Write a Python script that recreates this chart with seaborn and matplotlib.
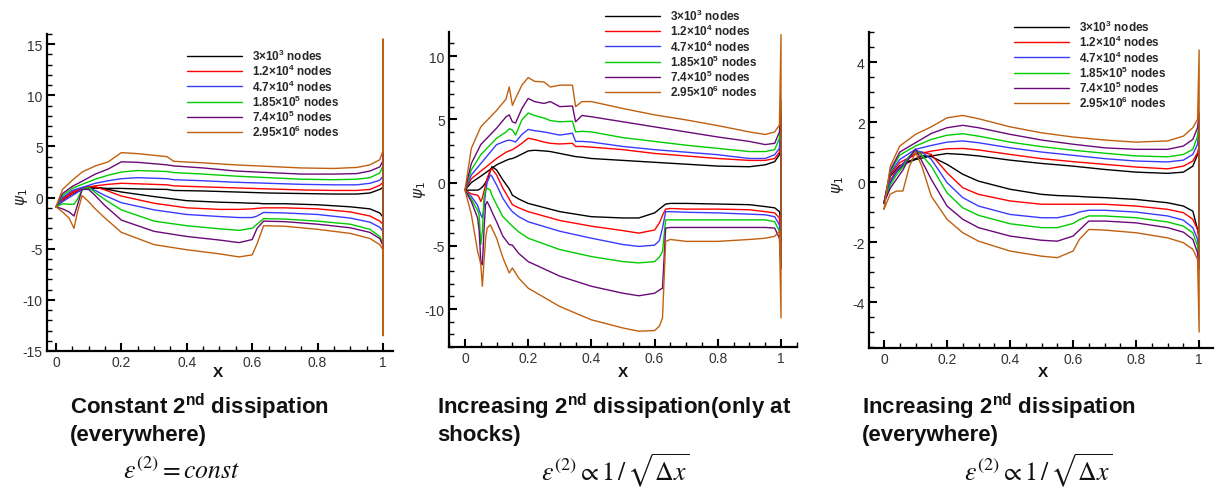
import numpy as np
import pandas as pd
import seaborn as sns
import matplotlib
matplotlib.use("Agg")
import matplotlib.pyplot as plt
from matplotlib.ticker import MultipleLocator
from matplotlib.lines import Line2D

# ---------------- data ----------------
SERIES = ["3×10$^{\\mathbf{3}}$ nodes", "1.2×10$^{\\mathbf{4}}$ nodes", "4.7×10$^{\\mathbf{4}}$ nodes",
          "1.85×10$^{\\mathbf{5}}$ nodes", "7.4×10$^{\\mathbf{5}}$ nodes", "2.95×10$^{\\mathbf{6}}$ nodes"]
COLORS = ["#000000", "#ff0000", "#3a3aff", "#00cc00", "#6a0a78", "#c0600f"]

# Panel 1: constant 2nd dissipation
P1_X_UP = [0, 0.02, 0.05, 0.08, 0.12, 0.16, 0.2, 0.25, 0.34, 0.36, 0.45, 0.55, 0.65, 0.75, 0.85, 0.92, 0.96, 0.99, 1.0]
P1_UP = [
    [-0.9, -0.2, 0.4, 0.8, 0.95, 0.9, 0.9, 0.85, 0.8, 0.7, 0.65, 0.55, 0.45, 0.4, 0.35, 0.35, 0.45, 0.8, 1.0],
    [-0.9, -0.1, 0.6, 0.9, 1.15, 1.3, 1.4, 1.35, 1.25, 1.15, 1.05, 0.95, 0.85, 0.75, 0.7, 0.7, 0.8, 1.2, 1.5],
    [-0.9, 0.0, 0.7, 1.0, 1.4, 1.65, 1.85, 1.95, 1.85, 1.75, 1.65, 1.5, 1.4, 1.3, 1.25, 1.25, 1.4, 1.7, 2.1],
    [-0.9, 0.2, 0.9, 1.3, 1.8, 2.2, 2.5, 2.65, 2.55, 2.45, 2.3, 2.1, 1.95, 1.8, 1.75, 1.8, 1.95, 2.4, 3.1],
    [-0.9, 0.4, 1.1, 1.6, 2.3, 2.8, 3.5, 3.45, 3.2, 3.1, 2.9, 2.6, 2.45, 2.3, 2.3, 2.35, 2.6, 3.0, 3.6],
    [-0.9, 0.8, 1.7, 2.5, 3.1, 3.5, 4.4, 4.3, 4.0, 3.55, 3.4, 3.2, 3.05, 2.9, 2.85, 2.95, 3.2, 3.7, 4.6],
]
P1_X_LO = [0, 0.02, 0.04, 0.055, 0.065, 0.08, 0.1, 0.12, 0.15, 0.2, 0.3, 0.4, 0.5, 0.56, 0.6, 0.615, 0.635, 0.7, 0.8, 0.9, 0.96, 0.99, 1.0]
P1_LO = [
    [-0.9, -0.3, 0.2, 0.5, 0.6, 0.8, 0.95, 1.0, 0.85, 0.55, 0.1, -0.3, -0.45, -0.5, -0.55, -0.55, -0.6, -0.6, -0.7, -0.9, -1.1, -1.5, -1.9],
    [-0.9, -0.3, 0.2, 0.5, 0.65, 0.9, 1.1, 1.05, 0.75, 0.15, -0.55, -1.0, -1.15, -1.15, -1.1, -1.05, -1.0, -1.0, -1.1, -1.4, -1.8, -2.3, -2.6],
    [-0.9, -0.4, 0.0, 0.3, 0.5, 0.85, 0.95, 0.7, 0.2, -0.5, -1.2, -1.65, -1.85, -1.95, -1.95, -1.8, -1.45, -1.5, -1.65, -2.0, -2.4, -2.9, -3.3],
    [-0.9, -0.6, -0.65, -0.65, -0.2, 0.8, 1.0, 0.5, -0.2, -1.2, -2.3, -2.75, -3.05, -3.2, -3.0, -2.6, -2.05, -2.1, -2.3, -2.6, -3.1, -3.8, -4.5],
    [-0.9, -1.1, -1.4, -1.8, -0.8, 0.8, 0.8, 0.2, -0.8, -2.2, -3.3, -3.8, -4.15, -4.4, -4.1, -3.0, -2.3, -2.35, -2.6, -2.95, -3.4, -4.0, -4.7],
    [-0.9, -1.4, -2.0, -3.0, -1.5, 0.2, -0.4, -1.1, -2.0, -3.4, -4.6, -5.1, -5.5, -5.8, -5.6, -4.5, -2.75, -2.8, -3.1, -3.5, -4.0, -4.6, -5.1],
]
P1_TE_TOP = [1.0, 1.8, 2.8, 4.8, 4.5, 15.5]
P1_TE_BOT = [-1.8, -3.0, -3.5, -5.5, -5.2, -13.5]

# Panel 2: increasing 2nd dissipation only at shocks
P2_X_UP = [0, 0.02, 0.05, 0.1, 0.13, 0.14, 0.15, 0.16, 0.18, 0.2, 0.22, 0.25, 0.27, 0.3, 0.34, 0.35, 0.37, 0.4, 0.5, 0.6, 0.7, 0.8, 0.9, 0.95, 0.98, 0.995]
P2_UP = [
    [-0.6, 0.0, 0.5, 1.4, 1.75, 1.85, 1.9, 2.0, 2.25, 2.5, 2.55, 2.5, 2.45, 2.3, 2.1, 2.05, 2.0, 1.9, 1.75, 1.6, 1.45, 1.3, 1.25, 1.4, 1.65, 2.2],
    [-0.6, 0.3, 0.9, 1.9, 2.4, 2.5, 2.6, 2.75, 3.1, 3.5, 3.4, 3.2, 3.1, 3.05, 3.1, 2.85, 2.85, 2.8, 2.6, 2.3, 2.1, 1.9, 1.75, 1.75, 1.9, 2.4],
    [-0.6, 0.6, 1.5, 3.0, 3.3, 3.35, 3.3, 3.2, 3.8, 4.2, 4.1, 4.0, 3.9, 3.75, 3.9, 3.25, 3.25, 3.2, 2.85, 2.6, 2.4, 2.2, 1.9, 1.9, 2.2, 2.7],
    [-0.6, 1.0, 2.2, 3.5, 4.0, 4.25, 4.15, 3.75, 4.95, 5.5, 5.3, 5.1, 4.9, 4.8, 4.85, 4.0, 4.05, 4.0, 3.55, 3.25, 2.95, 2.7, 2.45, 2.45, 2.6, 3.5],
    [-0.6, 1.5, 3.0, 4.3, 5.2, 5.35, 4.8, 4.7, 5.85, 6.65, 6.4, 6.25, 6.4, 6.0, 6.05, 4.8, 5.3, 5.2, 4.8, 4.4, 4.0, 3.6, 3.25, 3.0, 3.1, 4.0],
    [-0.6, 2.7, 4.4, 5.7, 6.6, 7.55, 6.1, 6.65, 7.7, 8.3, 8.0, 7.95, 7.55, 7.7, 7.7, 6.0, 6.4, 6.4, 5.85, 5.35, 4.95, 4.5, 4.0, 3.8, 4.0, 4.55],
]
P2_X_LO = [0, 0.02, 0.04, 0.045, 0.05, 0.055, 0.06, 0.065, 0.07, 0.08, 0.085, 0.1, 0.12, 0.14, 0.15, 0.17, 0.2, 0.3, 0.4, 0.5, 0.55, 0.6, 0.615, 0.625, 0.635, 0.65, 0.7, 0.8, 0.9, 0.95, 0.98, 0.995]
P2_LO = [
    [-0.6, -0.6, -0.6, -0.55, -0.45, -0.35, -0.2, 0.0, 0.2, 0.9, 1.25, 1.0, 0.2, -0.5, -1.0, -1.3, -1.65, -2.3, -2.7, -2.8, -2.8, -2.4, -2.1, -1.9, -1.7, -1.65, -1.65, -1.7, -1.75, -1.9, -2.0, -2.3],
    [-0.6, -0.9, -1.0, -1.2, -1.5, -1.2, -0.7, -0.2, 0.3, 1.0, 1.1, 0.6, -0.45, -1.3, -1.75, -2.0, -2.3, -3.0, -3.45, -3.8, -4.0, -3.75, -3.2, -2.6, -2.1, -2.05, -2.1, -2.1, -2.15, -2.3, -2.4, -2.8],
    [-0.6, -1.1, -1.8, -2.2, -2.55, -2.8, -2.0, -0.8, 0.0, 0.6, 0.5, -0.2, -1.25, -2.0, -2.3, -2.7, -3.1, -3.85, -4.4, -4.9, -5.05, -4.95, -4.6, -3.6, -2.3, -2.3, -2.35, -2.4, -2.5, -2.55, -2.7, -3.35],
    [-0.6, -1.3, -2.2, -2.6, -4.9, -3.85, -1.25, -0.6, -0.45, -0.6, -1.0, -1.75, -2.7, -3.2, -3.45, -3.9, -4.4, -5.3, -5.85, -6.25, -6.35, -6.25, -5.9, -5.45, -2.95, -2.95, -2.95, -2.95, -2.95, -2.95, -3.1, -3.85],
    [-0.6, -1.5, -2.8, -3.85, -6.25, -6.5, -3.85, -1.75, -1.5, -2.0, -2.3, -3.1, -4.25, -4.9, -4.95, -5.6, -6.25, -7.4, -8.2, -8.75, -8.95, -8.75, -8.5, -8.35, -3.6, -3.55, -3.55, -3.55, -3.55, -3.55, -3.6, -4.4],
    [-0.6, -2.5, -5.45, -5.9, -6.5, -8.2, -6.25, -4.5, -3.6, -3.35, -3.6, -4.4, -5.95, -7.15, -6.75, -7.55, -8.35, -9.8, -10.85, -11.5, -11.75, -11.7, -11.35, -10.7, -4.65, -4.5, -4.65, -4.65, -4.5, -4.4, -4.25, -3.85],
]
P2_TE_TOP = [3.0, 5.3, 6.5, 6.0, 5.5, 11.7]
P2_TE_BOT = [-3.2, -5.7, -6.8, -6.0, -6.8, -10.7]

# Panel 3: increasing 2nd dissipation everywhere
P3_X_UP = [0, 0.02, 0.05, 0.1, 0.15, 0.2, 0.25, 0.3, 0.4, 0.5, 0.6, 0.7, 0.8, 0.9, 0.95, 0.98, 0.995]
P3_UP = [
    [-0.7, 0.2, 0.55, 0.75, 0.87, 0.95, 0.92, 0.87, 0.73, 0.62, 0.53, 0.42, 0.33, 0.29, 0.33, 0.53, 0.92],
    [-0.7, 0.25, 0.65, 0.92, 1.03, 1.11, 1.12, 1.07, 0.92, 0.78, 0.68, 0.59, 0.5, 0.44, 0.53, 0.7, 0.98],
    [-0.7, 0.3, 0.75, 1.09, 1.22, 1.33, 1.37, 1.31, 1.14, 1.0, 0.89, 0.78, 0.7, 0.67, 0.73, 0.92, 1.26],
    [-0.7, 0.35, 0.9, 1.2, 1.42, 1.56, 1.61, 1.53, 1.33, 1.18, 1.06, 0.96, 0.87, 0.84, 0.92, 1.09, 1.53],
    [-0.7, 0.4, 1.0, 1.31, 1.62, 1.81, 1.89, 1.81, 1.59, 1.4, 1.26, 1.14, 1.09, 1.09, 1.2, 1.42, 1.81],
    [-0.9, 0.53, 1.2, 1.59, 1.84, 2.14, 2.22, 2.11, 1.84, 1.64, 1.5, 1.4, 1.33, 1.37, 1.53, 1.81, 2.09],
]
P3_X_LO = [0, 0.02, 0.04, 0.06, 0.08, 0.1, 0.12, 0.15, 0.2, 0.25, 0.3, 0.4, 0.5, 0.55, 0.6, 0.62, 0.65, 0.7, 0.8, 0.9, 0.95, 0.98, 0.995]
P3_LO = [
    [-0.7, 0.0, 0.35, 0.55, 0.7, 0.78, 0.88, 0.85, 0.59, 0.26, 0.03, -0.24, -0.41, -0.45, -0.47, -0.48, -0.5, -0.52, -0.58, -0.69, -0.8, -0.97, -1.58],
    [-0.7, 0.05, 0.4, 0.62, 0.8, 0.95, 1.0, 0.92, 0.31, -0.19, -0.41, -0.63, -0.74, -0.74, -0.74, -0.74, -0.74, -0.74, -0.8, -0.91, -1.02, -1.24, -1.58],
    [-0.7, 0.0, 0.35, 0.6, 0.85, 1.05, 1.0, 0.76, -0.02, -0.52, -0.8, -1.08, -1.19, -1.19, -1.08, -1.0, -0.94, -0.94, -1.0, -1.13, -1.27, -1.52, -1.91],
    [-0.7, -0.1, 0.25, 0.5, 0.85, 1.05, 0.9, 0.53, -0.36, -0.86, -1.11, -1.39, -1.52, -1.52, -1.38, -1.25, -1.13, -1.13, -1.19, -1.33, -1.47, -1.69, -2.13],
    [-0.7, -0.2, 0.1, 0.4, 0.8, 1.1, 0.7, 0.09, -0.8, -1.24, -1.52, -1.8, -1.94, -1.97, -1.8, -1.6, -1.3, -1.3, -1.36, -1.52, -1.67, -1.91, -2.36],
    [-0.9, -0.4, -0.3, -0.3, 0.5, 1.0, 0.53, -0.47, -1.24, -1.69, -1.97, -2.3, -2.47, -2.52, -2.3, -1.91, -1.58, -1.6, -1.69, -1.86, -2.02, -2.24, -2.58],
]
P3_TE_TOP = [1.0, 1.2, 1.9, 2.0, 2.3, 4.4]
P3_TE_BOT = [-1.8, -2.0, -2.5, -2.7, -2.9, -5.0]

CAPTIONS = ["Constant 2$^{\\mathbf{nd}}$ dissipation\n(everywhere)",
            "Increasing 2$^{\\mathbf{nd}}$ dissipation(only at\nshocks)",
            "Increasing 2$^{\\mathbf{nd}}$ dissipation\n(everywhere)"]
FORMULAS = [r"$\varepsilon^{(2)} = const$",
            r"$\varepsilon^{(2)} \propto 1\,/\,\sqrt{\Delta x}$",
            r"$\varepsilon^{(2)} \propto 1\,/\,\sqrt{\Delta x}$"]

# ---------------- figure ----------------
W, H = 1215, 489
sns.set_theme(style="white")
plt.rcParams["font.family"] = ["Liberation Sans", "DejaVu Sans"]
plt.rcParams["mathtext.fontset"] = "custom"
plt.rcParams["mathtext.bf"] = "Liberation Sans:bold"
plt.rcParams["mathtext.rm"] = "Liberation Sans"

fig = plt.figure(figsize=(W / 100, H / 100), dpi=100)


def px(x, y):
    return x / W, 1 - y / H


def build_df(x_up, ups, x_lo, los, tops, bots):
    rows = []
    for i, name in enumerate(SERIES):
        xs = list(x_up) + [1.0, 1.0] + list(x_lo)[::-1]
        ys = list(ups[i]) + [tops[i], bots[i]] + list(los[i])[::-1]
        for k, (xx, yy) in enumerate(zip(xs, ys)):
            rows.append((name, k, xx, yy))
    return pd.DataFrame(rows, columns=["series", "order", "x", "y"])


panels = [
    dict(box=(47, 352, 393, 35), xlim=(-0.0275, 1.0306), ylim=(-15, 16.0),
         ymaj=5, ymin=1, data=(P1_X_UP, P1_UP, P1_X_LO, P1_LO, P1_TE_TOP, P1_TE_BOT),
         leg=(187, 49), ylab=(22, 197), xlab=(218, 373), cap=(70, 392), form=(182, 471)),
    dict(box=(449, 348, 797, 33), xlim=(-0.0506, 1.0506), ylim=(-13, 11.9),
         ymaj=5, ymin=1, data=(P2_X_UP, P2_UP, P2_X_LO, P2_LO, P2_TE_TOP, P2_TE_BOT),
         leg=(605, 9), ylab=(420, 190), xlab=(623, 373), cap=(437, 392), form=(615, 471)),
    dict(box=(869, 349, 1213, 33), xlim=(-0.0476, 1.044), ylim=(-5.53, 5.0),
         ymaj=2, ymin=0.5, data=(P3_X_UP, P3_UP, P3_X_LO, P3_LO, P3_TE_TOP, P3_TE_BOT),
         leg=(1014, 20), ylab=(838, 185), xlab=(1043, 373), cap=(862, 392), form=(1038, 471)),
]

palette = dict(zip(SERIES, COLORS))

for idx, p in enumerate(panels):
    l, b, r, t = p["box"]
    ax = fig.add_axes([l / W, 1 - b / H, (r - l) / W, (b - t) / H])
    df = build_df(*p["data"])
    sns.lineplot(data=df, x="x", y="y", hue="series", palette=palette,
                 sort=False, estimator=None, units="series", legend=False,
                 linewidth=1.0, ax=ax)
    ax.set_xlim(*p["xlim"])
    ax.set_ylim(*p["ylim"])
    ax.set_xlabel("")
    ax.set_ylabel("")
    for s in ["top", "right"]:
        ax.spines[s].set_visible(False)
    for s in ["left", "bottom"]:
        ax.spines[s].set_linewidth(1.6)
        ax.spines[s].set_color("black")
    ax.xaxis.set_major_locator(MultipleLocator(0.2))
    ax.xaxis.set_minor_locator(MultipleLocator(0.05))
    ax.yaxis.set_major_locator(MultipleLocator(p["ymaj"]))
    ax.yaxis.set_minor_locator(MultipleLocator(p["ymin"]))
    ax.xaxis.set_major_formatter(matplotlib.ticker.FuncFormatter(lambda v, _: f"{v:g}"))
    ax.yaxis.set_major_formatter(matplotlib.ticker.FuncFormatter(lambda v, _: f"{v:g}"))
    ax.tick_params(which="major", direction="in", length=6, width=1.5, color="black",
                   labelsize=10, labelcolor="#333333", pad=3,
                   bottom=True, left=True)
    ax.tick_params(which="minor", direction="in", length=3.5, width=1.0, color="black",
                   bottom=True, left=True)
    ax.set_facecolor("white")
    ax.grid(False)

    # legend
    handles = [Line2D([], [], color=c, lw=1.0) for c in COLORS]
    lx, ly = px(*p["leg"])
    ax.legend(handles, SERIES, loc="upper left", bbox_to_anchor=(lx, ly),
              bbox_transform=fig.transFigure, frameon=False,
              prop=dict(family=["Liberation Sans", "DejaVu Sans"], weight="bold", size=8.5),
              handlelength=4.65, handletextpad=0.85, labelspacing=0.0,
              borderpad=0, borderaxespad=0)

    # axis labels
    fig.text(*px(*p["ylab"]), r"$\psi_1$", rotation=90, ha="center", va="center",
             fontsize=11, math_fontfamily="dejavusans", color="#222222")
    fig.text(*px(*p["xlab"]), "X", ha="center", va="center", fontsize=11,
             fontweight="bold", color="#111111")

    # captions
    fig.text(*px(*p["cap"]), CAPTIONS[idx], ha="left", va="top",
             fontsize=16, fontweight="bold", color="#111111", linespacing=1.2)
    fig.text(*px(*p["form"]), FORMULAS[idx], ha="center", va="center",
             fontsize=18.5, math_fontfamily="stix", color="#111111")

fig.savefig("out.png", dpi=100, facecolor="white")
